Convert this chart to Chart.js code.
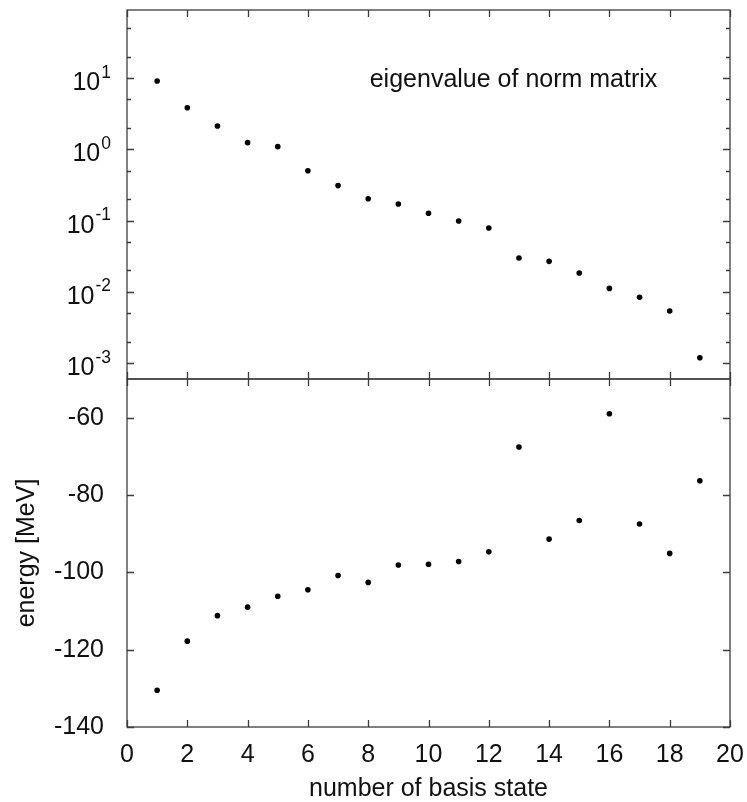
<!DOCTYPE html>
<html>
<head>
<meta charset="utf-8">
<script src="https://cdn.jsdelivr.net/npm/chart.js@4.4.1/dist/chart.umd.min.js"></script>
<style>
    body { margin: 0; background: #fff; }
    #wrap { position: relative; width: 747px; height: 802px; }
    #wrap canvas { position: absolute; left: 0; top: 0; }
</style>
</head>
<body>
<div id="wrap">
    <canvas id="norm-chart" width="747" height="802"></canvas>
    <canvas id="energy-chart" width="747" height="802"></canvas>
</div>
<script>
const basisStates = [1, 2, 3, 4, 5, 6, 7, 8, 9, 10, 11, 12, 13, 14, 15, 16, 17, 18, 19];
const normEigenvalues = [9.07, 3.83, 2.12, 1.24, 1.09, 0.50, 0.31, 0.203, 0.171, 0.127,
    0.0987, 0.0787, 0.0299, 0.0268, 0.0184, 0.0112, 0.0084, 0.0054, 0.00119];
const energies = [-130.5, -117.8, -111.2, -109.0, -106.2, -104.5, -100.8, -102.6, -98.1, -97.9,
    -97.2, -94.7, -67.6, -91.4, -86.6, -59.0, -87.5, -95.1, -76.3];

const xTicks = [0, 2, 4, 6, 8, 10, 12, 14, 16, 18, 20];
const normDecades = [1e-3, 1e-2, 1e-1, 1, 10];
const normMinorSteps = [2, 5];
const energyTicks = [-140, -120, -100, -80, -60];

const FONT = "'Liberation Sans', Arial, sans-serif";
const FONT_SIZE = 25;
const TEXT_COLOR = '#111';
const AXIS_COLOR = '#3c3c3c';

const normMinor = [];
normDecades.concat([100]).forEach(d => normMinorSteps.forEach(s => normMinor.push(d * s / 10)));

// gnuplot style box: border plus inward ticks on all four sides
const framePlugin = {
    id: 'frame',
    afterDraw(chart, args, opts) {
        const { ctx, chartArea: a, scales } = chart;
        const x = scales.x, y = scales.y;
        ctx.save();
        ctx.strokeStyle = AXIS_COLOR;
        ctx.lineWidth = 1.3;
        ctx.strokeRect(a.left, a.top, a.right - a.left, a.bottom - a.top);
        ctx.beginPath();
        xTicks.forEach(v => {
            const px = Math.round(x.getPixelForValue(v)) + 0.5;
            ctx.moveTo(px, a.top); ctx.lineTo(px, a.top + 7);
            ctx.moveTo(px, a.bottom); ctx.lineTo(px, a.bottom - 7);
        });
        const tick = (v, len) => {
            if (v < y.min || v > y.max) return;
            const py = Math.round(y.getPixelForValue(v)) + 0.5;
            ctx.moveTo(a.left, py); ctx.lineTo(a.left + len, py);
            ctx.moveTo(a.right, py); ctx.lineTo(a.right - len, py);
        };
        (opts.major || []).forEach(v => tick(v, 7));
        (opts.minor || []).forEach(v => tick(v, 4));
        ctx.stroke();
        ctx.restore();
    }
};

// 10^n labels for the log axis and the panel caption
const normLabels = {
    id: 'normLabels',
    afterDraw(chart) {
        const { ctx, chartArea: a, scales } = chart;
        ctx.save();
        ctx.fillStyle = TEXT_COLOR;
        ctx.textAlign = 'right';
        ctx.textBaseline = 'alphabetic';
        normDecades.forEach(v => {
            const py = scales.y.getPixelForValue(v);
            const exp = String(Math.round(Math.log10(v)));
            ctx.font = '17.5px ' + FONT;
            const ew = ctx.measureText(exp).width;
            ctx.fillText(exp, a.left - 16, py - 0.5);
            ctx.font = FONT_SIZE + 'px ' + FONT;
            ctx.fillText('10', a.left - 17 - ew, py + 12);
        });
        ctx.textAlign = 'left';
        ctx.textBaseline = 'middle';
        ctx.font = FONT_SIZE + 'px ' + FONT;
        ctx.fillText('eigenvalue of norm matrix', scales.x.getPixelForValue(8.05), scales.y.getPixelForValue(9.4));
        ctx.restore();
    }
};

const pointStyle = {
    showLine: false,
    pointRadius: 2.8,
    pointHoverRadius: 2.8,
    backgroundColor: '#000',
    borderColor: '#000',
    borderWidth: 0
};

new Chart(document.getElementById('norm-chart'), {
    type: 'scatter',
    data: {
        datasets: [{
            ...pointStyle,
            data: basisStates.map((n, i) => ({ x: n, y: normEigenvalues[i] }))
        }]
    },
    options: {
        responsive: false,
        animation: false,
        devicePixelRatio: 1,
        layout: { padding: { top: 10, right: 17, left: 0, bottom: 0 } },
        plugins: {
            legend: { display: false },
            tooltip: { enabled: false },
            frame: { major: normDecades, minor: normMinor }
        },
        scales: {
            x: {
                type: 'linear',
                min: 0,
                max: 20,
                border: { display: false },
                grid: { display: false },
                ticks: { display: false },
                afterBuildTicks: s => { s.ticks = xTicks.map(v => ({ value: v })); },
                afterFit: s => { s.height = 802 - 379; s.paddingLeft = 0; s.paddingRight = 0; }
            },
            y: {
                type: 'logarithmic',
                min: 6e-4,
                max: 90,
                border: { display: false },
                grid: { display: false },
                ticks: { display: false },
                afterBuildTicks: s => { s.ticks = normDecades.map(v => ({ value: v })); },
                afterFit: s => { s.width = 127; }
            }
        }
    },
    plugins: [framePlugin, normLabels]
});

new Chart(document.getElementById('energy-chart'), {
    type: 'scatter',
    data: {
        datasets: [{
            ...pointStyle,
            data: basisStates.map((n, i) => ({ x: n, y: energies[i] }))
        }]
    },
    options: {
        responsive: false,
        animation: false,
        devicePixelRatio: 1,
        layout: { padding: { top: 379, right: 17, left: 0, bottom: 0 } },
        plugins: {
            legend: { display: false },
            tooltip: { enabled: false },
            frame: { major: energyTicks }
        },
        scales: {
            x: {
                type: 'linear',
                min: 0,
                max: 20,
                border: { display: false },
                grid: { display: false },
                ticks: {
                    color: TEXT_COLOR,
                    font: { family: FONT, size: FONT_SIZE },
                    padding: 5,
                    maxRotation: 0
                },
                afterBuildTicks: s => { s.ticks = xTicks.map(v => ({ value: v })); },
                title: {
                    display: true,
                    text: 'number of basis state',
                    color: TEXT_COLOR,
                    font: { family: FONT, size: FONT_SIZE, lineHeight: 1 },
                    padding: { top: 0, bottom: 0 }
                },
                afterFit: s => { s.height = 802 - 727; s.paddingLeft = 0; s.paddingRight = 0; }
            },
            y: {
                type: 'linear',
                min: -140,
                max: -50,
                border: { display: false },
                grid: { display: false },
                ticks: {
                    color: TEXT_COLOR,
                    font: { family: FONT, size: FONT_SIZE },
                    padding: 15
                },
                afterBuildTicks: s => { s.ticks = energyTicks.map(v => ({ value: v })); },
                title: {
                    display: true,
                    text: 'energy [MeV]',
                    color: TEXT_COLOR,
                    font: { family: FONT, size: FONT_SIZE, lineHeight: 1 },
                    padding: { top: 15, bottom: 0 }
                },
                afterFit: s => { s.width = 127; s.paddingTop = 0; s.paddingBottom = 0; }
            }
        }
    },
    plugins: [framePlugin]
});
</script>
</body>
</html>
